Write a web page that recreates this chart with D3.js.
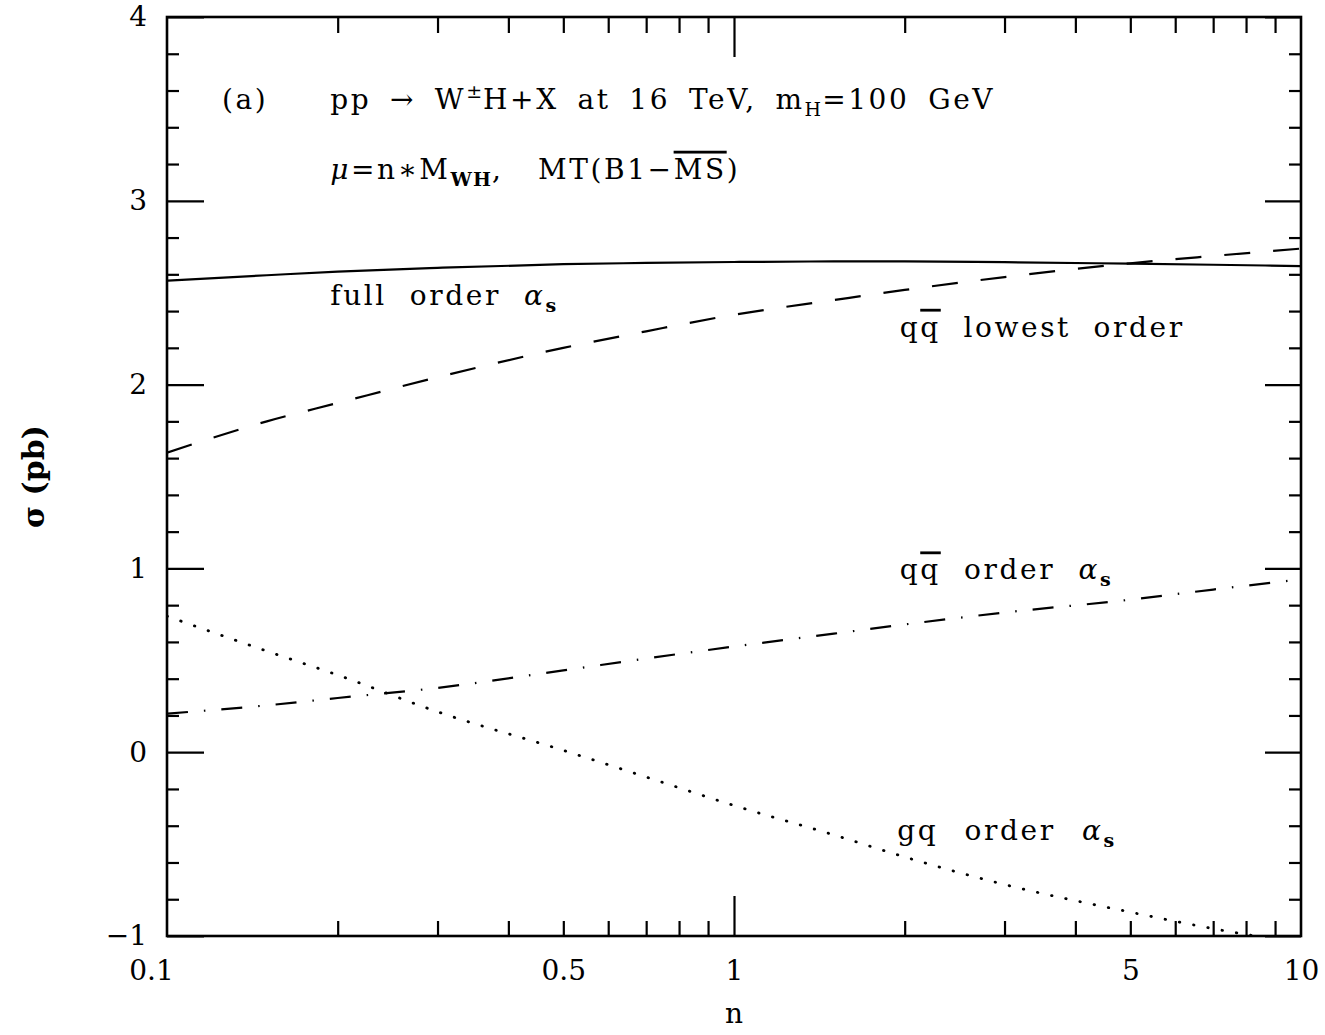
<!DOCTYPE html>
<html lang="en">
<head>
<meta charset="UTF-8">
<script src="https://cdnjs.cloudflare.com/ajax/libs/d3/7.8.5/d3.min.js"></script>
<title>W H cross section vs scale</title>
<style>
    body { margin: 0; background: white; }
    svg text { font-family: 'DejaVu Serif', serif; fill: black; }
    .ticks path.domain { display: none; }
    .ticks line { stroke: black; stroke-width: 2.2; }
    .lbl path.domain, .lbl line { display: none; }
    .lbl text { font-size: 28px; font-family: 'DejaVu Serif', serif; }
    .ovl { text-decoration: overline; }
</style>
</head>
<body>
<svg width="1325" height="1035"></svg>
<script>
// values (n = mu / M_WH, sigma in pb)
const nGrid     = [0.1, 0.15, 0.2, 0.3, 0.5, 0.7, 1, 1.5, 2, 3, 5, 7, 10]
const fullOrder = [2.565, 2.595, 2.615, 2.635, 2.655, 2.662, 2.667, 2.67, 2.67, 2.666, 2.658, 2.652, 2.645]
const qqLowest  = [1.63, 1.80, 1.90, 2.04, 2.20, 2.29, 2.38, 2.46, 2.515, 2.585, 2.66, 2.70, 2.74]
const qqAlphaS  = [0.21, 0.255, 0.295, 0.35, 0.445, 0.51, 0.575, 0.645, 0.695, 0.76, 0.83, 0.885, 0.94]
const gqAlphaS  = [0.74, 0.55, 0.42, 0.22, 0.01, -0.135, -0.29, -0.45, -0.57, -0.72, -0.87, -0.96, -1.04]

const xMajor = [1]
const xMinor = [0.2, 0.3, 0.4, 0.5, 0.6, 0.7, 0.8, 0.9, 2, 3, 4, 5, 6, 7, 8, 9]
const xLabels = [0.1, 0.5, 1, 5, 10]
const yMajor = [-1, 0, 1, 2, 3, 4]
const yMinor = d3.range(-0.8, 4, 0.2).map(v => +v.toFixed(1)).filter(v => !Number.isInteger(v))

const margin = { top: 17, right: 24, bot: 99, left: 167 }
const W = 1325, H = 1035

const x = d3.scaleLog().domain([0.1, 10]).range([margin.left, W - margin.right])
const y = d3.scaleLinear().domain([-1, 4]).range([H - margin.bot, margin.top])

const svg = d3.select('svg')

const yBot = y(-1), yTop = y(4), xLeft = x(0.1), xRight = x(10)

svg.append('clipPath').attr('id', 'clip')
    .append('rect')
    .attr('x', xLeft).attr('y', yTop)
    .attr('width', xRight - xLeft).attr('height', yBot - yTop)

// curves
const series = [
    { vals: fullOrder, dash: null, dots: false },
    { vals: qqLowest,  dash: '26,23', dots: false },
    { vals: qqAlphaS,  dash: '21,16,1.5,16', dots: false },
    { vals: gqAlphaS,  dash: '0.5,14', dots: true }
]
const line = d3.line()
    .x(d => x(d[0]))
    .y(d => y(d[1]))
    .curve(d3.curveMonotoneX)

const plot = svg.append('g').attr('clip-path', 'url(#clip)')
series.forEach(s => {
    plot.append('path')
        .datum(nGrid.map((n, i) => [n, s.vals[i]]))
        .attr('d', line)
        .attr('fill', 'none')
        .attr('stroke', 'black')
        .attr('stroke-width', s.dots ? 2.8 : 2.2)
        .attr('stroke-linecap', s.dots ? 'round' : 'butt')
        .attr('stroke-dasharray', s.dash)
})

// ticks, inward on all four sides
function ticks(axis, vals, size, transform) {
    svg.append('g')
        .attr('class', 'ticks')
        .attr('transform', transform)
        .call(axis.tickValues(vals).tickSize(size).tickFormat(''))
}
ticks(d3.axisTop(x), xMajor, 40, `translate(0,${yBot})`)
ticks(d3.axisTop(x), xMinor, 15, `translate(0,${yBot})`)
ticks(d3.axisBottom(x), xMajor, 40, `translate(0,${yTop})`)
ticks(d3.axisBottom(x), xMinor, 16, `translate(0,${yTop})`)
ticks(d3.axisRight(y), yMajor, 37, `translate(${xLeft},0)`)
ticks(d3.axisRight(y), yMinor, 12, `translate(${xLeft},0)`)
ticks(d3.axisLeft(y), yMajor, 36, `translate(${xRight},0)`)
ticks(d3.axisLeft(y), yMinor, 12, `translate(${xRight},0)`)

// frame
svg.append('rect')
    .attr('x', xLeft).attr('y', yTop)
    .attr('width', xRight - xLeft).attr('height', yBot - yTop)
    .attr('fill', 'none').attr('stroke', 'black').attr('stroke-width', 2.6)

// tick labels
const xl = svg.append('g').attr('class', 'lbl')
    .attr('transform', `translate(0,${yBot + 21})`)
    .call(d3.axisBottom(x).tickValues(xLabels).tickSize(0).tickFormat(d3.format('')))
xl.selectAll('text').filter(d => d === 0.1).attr('dx', -16)
svg.append('g').attr('class', 'lbl')
    .attr('transform', `translate(${xLeft - 17},0)`)
    .call(d3.axisLeft(y).tickValues(yMajor).tickSize(0).tickFormat(d => d < 0 ? '\u2212' + (-d) : d))

// axis titles
svg.append('text')
    .attr('x', x(1)).attr('y', 1023)
    .attr('text-anchor', 'middle')
    .style('font-size', '28px')
    .text('n')
svg.append('text')
    .attr('transform', `translate(44,${(yTop + yBot) / 2}) rotate(-90)`)
    .attr('text-anchor', 'middle')
    .style('font-size', '30px')
    .style('font-weight', 'bold')
    .text('\u03c3 (pb)')

// annotations placed in data coordinates, word gaps stretched to the measured width
function note(n, s, len, parts) {
    const t = svg.append('text')
        .attr('x', x(n)).attr('y', y(s))
        .style('font-size', '28px')
        .style('letter-spacing', '2.6px')
    parts.forEach(p => {
        const ts = t.append('tspan').text(p.t)
        if (p.sub) ts.attr('dy', 7).style('font-size', '19px').style('letter-spacing', '1px')
        if (p.sup) ts.attr('dy', -11).style('font-size', '19px').style('letter-spacing', '1px')
        if (p.back) ts.attr('dy', p.back)
        if (p.it) ts.style('font-style', 'italic')
        if (p.b) ts.style('font-weight', 'bold')
        if (p.o) ts.attr('class', 'ovl')
    })
    const gaps = parts.map(p => p.t).join('').split(' ').length - 1
    const nat = t.node().getComputedTextLength()
    if (gaps > 0) t.style('word-spacing', Math.max(0, (len - nat) / gaps) + 'px')
}
note(0.125, 3.5, 46, [{ t: '(a)' }])
note(0.194, 3.5, 665, [
    { t: 'pp \u2192 W' }, { t: '\u00b1', sup: true }, { t: 'H+X at 16 TeV, m', back: 11 },
    { t: 'H', sub: true }, { t: '=100 GeV', back: -7 }
])
note(0.194, 3.12, 397, [
    { t: '\u03bc', it: true }, { t: '=n\u2217M' }, { t: 'WH', sub: true, b: true },
    { t: ',\u00a0\u00a0\u00a0MT(B1\u2212', back: -7 }, { t: 'MS', o: true }, { t: ')' }
])
note(0.194, 2.433, 227, [{ t: 'full order ' }, { t: '\u03b1', it: true }, { t: 's', sub: true, b: true }])
note(1.96, 2.26, 285, [{ t: 'q' }, { t: 'q', o: true }, { t: ' lowest order' }])
note(1.96, 0.94, 212, [{ t: 'q' }, { t: 'q', o: true }, { t: ' order ' }, { t: '\u03b1', it: true }, { t: 's', sub: true, b: true }])
note(1.94, -0.48, 218, [{ t: 'gq order ' }, { t: '\u03b1', it: true }, { t: 's', sub: true, b: true }])
</script>
</body>
</html>
